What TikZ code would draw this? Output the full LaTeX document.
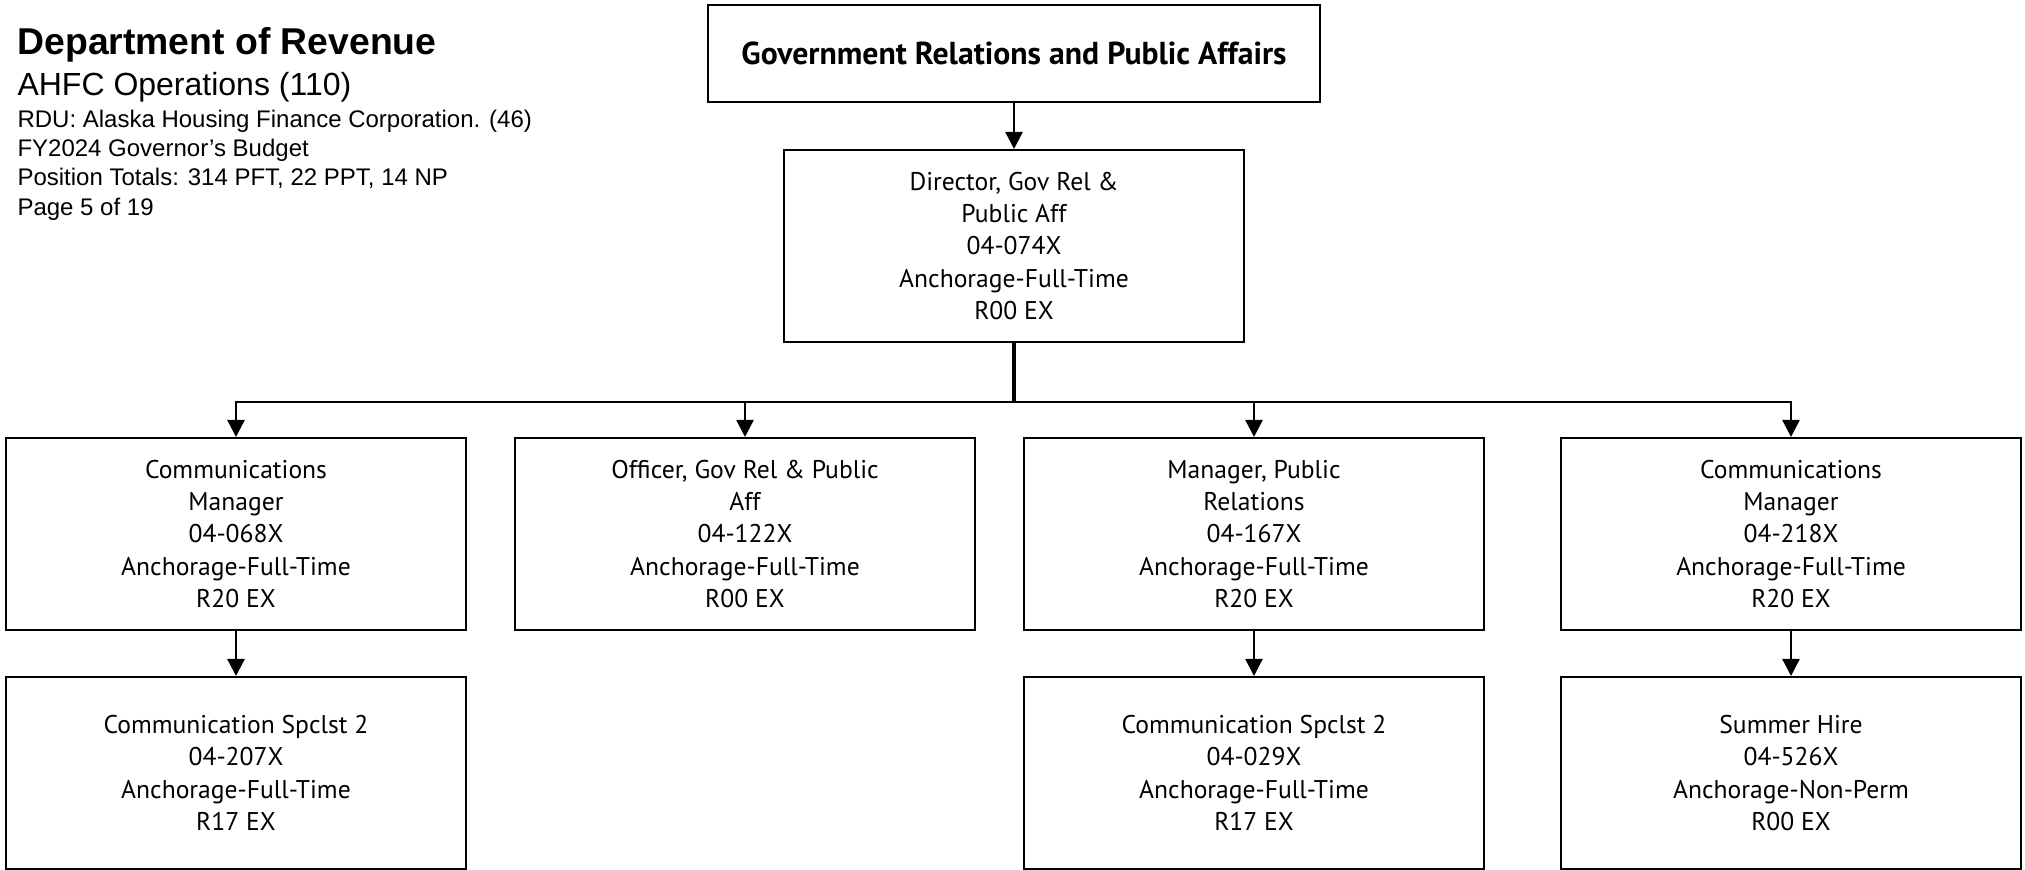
\documentclass[tikz,border=0pt]{standalone}
\usepackage{fontspec}
\setmainfont{Liberation Sans}
\newfontfamily\boxfont{PT Sans}
\usetikzlibrary{arrows.meta}
\begin{document}
\begin{tikzpicture}[x=0.375pt,y=-0.375pt,
  posbox/.style={draw, line width=0.75pt, minimum width=172.5pt, minimum height=72pt, inner sep=0pt, align=center, font=\boxfont\fontsize{9.6}{12.1}\selectfont},
  titlebox/.style={draw, line width=0.75pt, minimum width=229.5pt, minimum height=36.4pt, inner sep=0pt, align=center, font=\boxfont\bfseries\fontsize{11.9}{14}\selectfont},
  conn/.style={line width=0.9pt},
  arr/.style={conn, -{Triangle[width=6.4pt,length=6.4pt]}},
  hdr/.style={anchor=base west, inner sep=0pt}]
\useasboundingbox (0,0) rectangle (2025,870);
% header
\node[hdr, font=\bfseries\fontsize{14}{16}\selectfont] (h1) at (17,55) {Department of Revenue};
\node[hdr, font=\fontsize{12}{14}\selectfont] (h2) at (17,96) {AHFC Operations (110)};
\node[hdr, font=\fontsize{9}{11}\selectfont] (h3) at (17,128) {RDU: Alaska Housing Finance Corporation. (46)};
\node[hdr, font=\fontsize{9}{11}\selectfont] (h4) at (17,157) {FY2024 Governor’s Budget};
\node[hdr, font=\fontsize{9}{11}\selectfont] (h5) at (17,186) {Position Totals: 314 PFT, 22 PPT, 14 NP};
\node[hdr, font=\fontsize{9}{11}\selectfont] (h6) at (17,216) {Page 5 of 19};
% boxes
\node[titlebox] (gr) at (1014,53.5) {Government Relations and Public Affairs};
\node[posbox] (dir) at (1014,246) {Director, Gov Rel \&\\Public Aff\\04-074X\\Anchorage-Full-Time\\R00 EX};
\node[posbox] (c1) at (236,534) {Communications\\Manager\\04-068X\\Anchorage-Full-Time\\R20 EX};
\node[posbox] (c2) at (745,534) {Officer, Gov Rel \& Public\\Aff\\04-122X\\Anchorage-Full-Time\\R00 EX};
\node[posbox] (c3) at (1254,534) {Manager, Public\\Relations\\04-167X\\Anchorage-Full-Time\\R20 EX};
\node[posbox] (c4) at (1791,534) {Communications\\Manager\\04-218X\\Anchorage-Full-Time\\R20 EX};
\node[posbox] (d1) at (236,773) {Communication Spclst 2\\04-207X\\Anchorage-Full-Time\\R17 EX};
\node[posbox] (d3) at (1254,773) {Communication Spclst 2\\04-029X\\Anchorage-Full-Time\\R17 EX};
\node[posbox] (d4) at (1791,773) {Summer Hire\\04-526X\\Anchorage-Non-Perm\\R00 EX};
% connectors
\coordinate (bus) at (1014,402);
\draw[arr] (gr) -- (dir);
\draw[line width=1.3pt] (dir.south) -- (bus);
\draw[arr] (bus) -| (c1.north);
\draw[arr] (bus) -| (c2.north);
\draw[arr] (bus) -| (c3.north);
\draw[arr] (bus) -| (c4.north);
\draw[arr] (c1) -- (d1);
\draw[arr] (c3) -- (d3);
\draw[arr] (c4) -- (d4);
\end{tikzpicture}
\end{document}
